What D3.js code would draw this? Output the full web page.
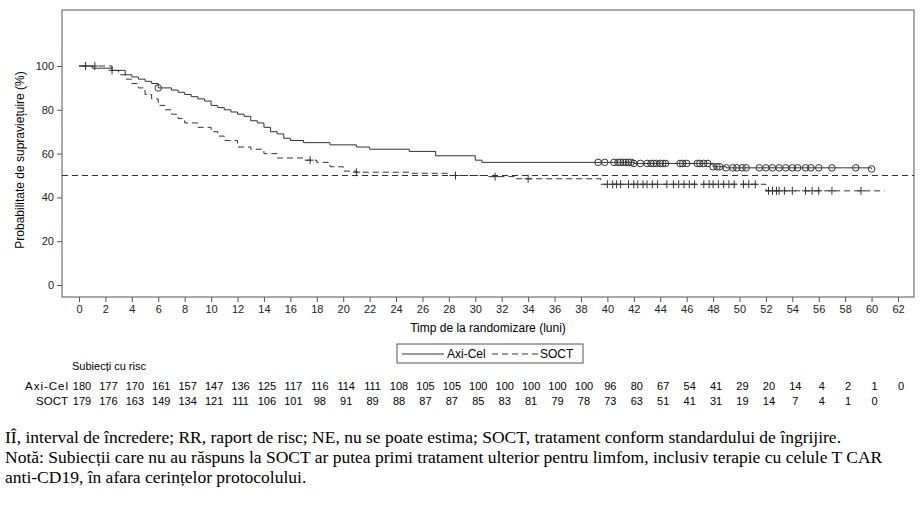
<!DOCTYPE html><html><head><meta charset="utf-8"><script src="https://cdn.jsdelivr.net/npm/d3@7"></script>
<style>body{margin:0;background:#fff}text{font-family:"Liberation Sans",Arial,sans-serif}</style></head><body><svg id="c" width="924" height="506"></svg>
<script>
const axiT=[0,1,2.5,3.5,4,4.5,5,5.5,6,7,7.5,8,8.5,9,9.5,10,10.5,11,11.5,12,12.5,13,13.5,14,14.5,15,15.5,16,17,19,21,22,25,27,30,30.5,42,48,49,60];
const axiS=[100,99,98,96,95,94,93,92,90,89,88,87,86,85,84,82,81,80,79,78,77,75,74,72,70,69,67,66,65,64,63,62,61,59,57,56,55.5,54,53.5,53];
const socT=[0,2.5,3,3.5,4,4.5,5,5.5,6,6.5,7,7.5,8,9,10,10.5,11,12,13,14,15,17,18,19,20,21,25,28,31,33,39.5,52,61];
const socS=[100,98,96,94,92,90,87,85,82,80,78,76,74,72,70,68,66,63,62,60,58,57,56,54,52,51.5,51,50,49.5,48.5,46,43,43];
const axiCens=[6,39.3,39.8,40.5,40.8,41,41.2,41.4,41.6,41.8,42,42.5,43,43.3,43.5,43.7,44,44.2,44.4,45.5,45.7,46,46.8,47,47.3,47.6,48,48.3,48.5,49,49.5,49.8,50.2,50.5,51.5,52,52.5,53,53.5,54,54.4,55,55.4,56,57,58.8,60];
const socCens=[0.5,1.2,2.5,17.5,21,28.5,31.5,34,40,40.4,40.7,41,41.6,42,42.3,42.7,43,43.4,43.8,44.5,45,45.4,45.8,46.2,46.6,47.3,47.7,48,48.4,48.8,49.2,49.6,50.3,50.7,51.2,52.2,52.5,52.8,53,53.4,54,55,55.5,56,57,59.2];
const xTicks=d3.range(0,63,2), yTicks=[0,20,40,60,80,100];
const riskAxi=[180,177,170,161,157,147,136,125,117,116,114,111,108,105,105,100,100,100,100,100,96,80,67,54,41,29,20,14,4,2,1,0];
const riskSoc=[179,176,163,149,134,121,111,106,101,98,91,89,88,87,87,85,83,81,79,78,73,63,51,41,31,19,14,7,4,1,0];
const svg=d3.select("#c");
const x=d3.scaleLinear().domain([0,62]).range([79,898]);
const y=d3.scaleLinear().domain([0,100]).range([285,66]);
svg.append("rect").attr("x",62).attr("y",10).attr("width",852).attr("height",287).attr("fill","none").attr("stroke","#555");
const xa=svg.append("g").attr("transform","translate(0,297)").call(d3.axisBottom(x).tickValues(xTicks).tickSize(5).tickSizeOuter(0));
const ya=svg.append("g").attr("transform","translate(62,0)").call(d3.axisLeft(y).tickValues(yTicks).tickSize(5).tickSizeOuter(0));
[xa,ya].forEach(a=>{a.select(".domain").remove();a.selectAll("text").attr("font-size",11).attr("fill","#222");a.selectAll("line").attr("stroke","#555");});
svg.append("text").attr("x",488).attr("y",332).attr("text-anchor","middle").attr("font-size",12).text("Timp de la randomizare (luni)");
svg.append("text").attr("transform","translate(24,160) rotate(-90)").attr("text-anchor","middle").attr("font-size",12).text("Probabilitate de supraviețuire (%)");
svg.append("line").attr("x1",62).attr("x2",914).attr("y1",y(50)).attr("y2",y(50)).attr("stroke","#333").attr("stroke-dasharray","6,4");
function stepVal(T,S,t){let v=S[0];for(let i=0;i<T.length;i++)if(T[i]<=t)v=S[i];return v;}
const line=d3.line().x(d=>x(d[0])).y(d=>y(d[1])).curve(d3.curveStepAfter);
svg.append("path").attr("d",line(axiT.map((t,i)=>[t,axiS[i]]))).attr("fill","none").attr("stroke","#333");
svg.append("path").attr("d",line(socT.map((t,i)=>[t,socS[i]]))).attr("fill","none").attr("stroke","#333").attr("stroke-dasharray","6,4");
axiCens.forEach(t=>svg.append("circle").attr("cx",x(t)).attr("cy",y(stepVal(axiT,axiS,t))).attr("r",3.3).attr("fill","none").attr("stroke","#333"));
socCens.forEach(t=>{const cx=x(t),cy=y(stepVal(socT,socS,t));
 svg.append("path").attr("d",`M${cx-3.5},${cy}H${cx+3.5}M${cx},${cy-4}V${cy+4}`).attr("stroke","#333");});
const lg=svg.append("g");
lg.append("rect").attr("x",397).attr("y",344).attr("width",186).attr("height",19).attr("fill","#fff").attr("stroke","#555");
lg.append("line").attr("x1",402).attr("x2",444).attr("y1",354).attr("y2",354).attr("stroke","#333");
lg.append("text").attr("x",447).attr("y",358).attr("font-size",12).text("Axi-Cel");
lg.append("line").attr("x1",492).attr("x2",538).attr("y1",354).attr("y2",354).attr("stroke","#333").attr("stroke-dasharray","6,4");
lg.append("text").attr("x",540).attr("y",358).attr("font-size",12).text("SOCT");
svg.append("text").attr("x",72).attr("y",370).attr("font-size",11).text("Subiecți cu risc");
svg.append("text").attr("x",68).attr("y",390).attr("text-anchor","end").attr("font-size",11.5).attr("textLength",43).text("Axi-Cel");
svg.append("text").attr("x",68).attr("y",405).attr("text-anchor","end").attr("font-size",11.5).text("SOCT");
riskAxi.forEach((v,i)=>svg.append("text").attr("x",x(xTicks[i])+3).attr("y",390).attr("text-anchor","middle").attr("font-size",11).text(v));
riskSoc.forEach((v,i)=>svg.append("text").attr("x",x(xTicks[i])+3).attr("y",405).attr("text-anchor","middle").attr("font-size",11).text(v));
const notes=["IÎ, interval de încredere; RR, raport de risc; NE, nu se poate estima; SOCT, tratament conform standardului de îngrijire.","Notă: Subiecții care nu au răspuns la SOCT ar putea primi tratament ulterior pentru limfom, inclusiv terapie cu celule T CAR","anti-CD19, în afara cerințelor protocolului."];
notes.forEach((n,i)=>svg.append("text").attr("x",5).attr("y",443+i*20).attr("font-size",17.5).style("font-family","'Liberation Serif',serif").text(n));
</script></body></html>
